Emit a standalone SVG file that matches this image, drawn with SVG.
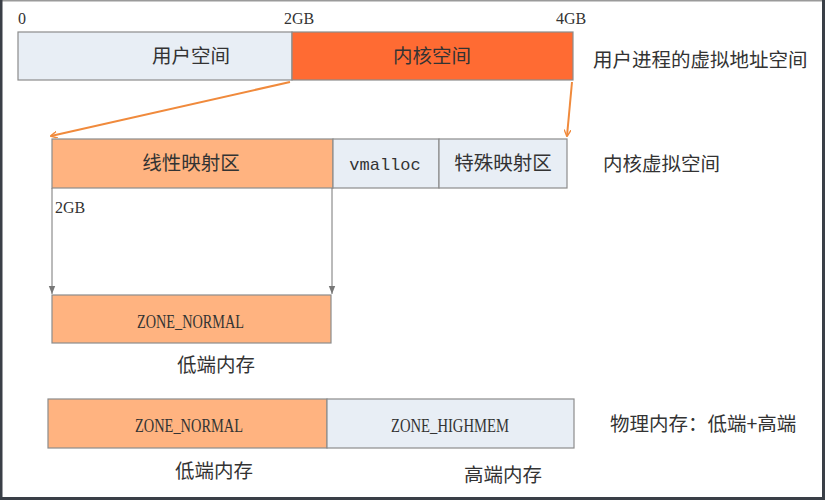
<svg xmlns="http://www.w3.org/2000/svg" width="825" height="500" viewBox="0 0 825 500">
<defs>
<style>
.box{stroke:#8c8c8c;stroke-width:1.2}
.lb{fill:#e8eef5}
.or{fill:#ffb380}
.rd{fill:#ff6b33}
.cn{font-family:"Noto Sans CJK SC","Noto Sans",sans-serif;font-size:19.5px;fill:#333}
.num{font-family:"Liberation Serif","DejaVu Serif",serif;font-size:16px;fill:#333}
.mono{font-family:"Liberation Mono","DejaVu Sans Mono",monospace;font-size:17px;fill:#333}
.zn{font-family:"Liberation Serif","DejaVu Serif",serif;font-size:18px;fill:#333}
.oarrow{stroke:#f08a3c;stroke-width:2;fill:none}
.garrow{stroke:#777;stroke-width:1;fill:none}
</style>
<marker id="ao" viewBox="0 0 10 10" refX="9" refY="5" markerWidth="7" markerHeight="7" orient="auto" markerUnits="userSpaceOnUse"><path d="M0,0 L10,5 L0,10" fill="none" stroke="#f08a3c" stroke-width="2"/></marker>
<marker id="ag" viewBox="0 0 10 10" refX="10" refY="5" markerWidth="8" markerHeight="8" orient="auto" markerUnits="userSpaceOnUse"><path d="M0,1 L10,5 L0,9 Z" fill="#777"/></marker>
</defs>
<rect x="0" y="0" width="825" height="500" fill="#ffffff"/>
<rect x="0" y="0" width="825" height="1.5" fill="#9a9a9a"/>
<rect x="0" y="0" width="2.5" height="500" fill="#3a3f47"/>
<rect x="822" y="0" width="3" height="500" fill="#3a3f47"/>
<rect x="0" y="497" width="825" height="3" fill="#3a3f47"/>

<g id="labels-top">
<text class="num" x="18" y="24">0</text>
<text class="num" x="284" y="24">2GB</text>
<text class="num" x="556" y="24">4GB</text>
</g>
<g id="user-space"><rect class="box lb" x="18" y="32" width="274" height="48"/><text class="cn" x="191" y="63" text-anchor="middle">用户空间</text></g>
<g id="kernel-space"><rect class="box rd" x="292" y="32" width="281" height="48"/><text class="cn" x="432" y="63" text-anchor="middle">内核空间</text></g>
<g id="label-vas"><text class="cn" x="593" y="67">用户进程的虚拟地址空间</text></g>

<g id="linear-map"><rect class="box or" x="52" y="139" width="281" height="49"/><text class="cn" x="191" y="170" text-anchor="middle">线性映射区</text></g>
<g id="vmalloc"><rect class="box lb" x="333" y="139" width="106" height="49"/><text class="mono" x="385" y="170" text-anchor="middle">vmalloc</text></g>
<g id="special-map"><rect class="box lb" x="439" y="139" width="128" height="49"/><text class="cn" x="503" y="170" text-anchor="middle">特殊映射区</text></g>
<g id="label-kvs"><text class="cn" x="603" y="171">内核虚拟空间</text></g>
<g id="label-2gb"><text class="num" x="55" y="213">2GB</text></g>

<g id="zone-normal-low"><rect class="box or" x="52" y="295" width="279" height="48"/><text class="zn" x="137" y="328" textLength="107" lengthAdjust="spacingAndGlyphs">ZONE_NORMAL</text></g>
<g id="label-low1"><text class="cn" x="216" y="372" text-anchor="middle">低端内存</text></g>

<g id="zone-normal"><rect class="box or" x="48" y="399" width="279" height="49"/><text class="zn" x="135" y="432" textLength="108" lengthAdjust="spacingAndGlyphs">ZONE_NORMAL</text></g>
<g id="zone-highmem"><rect class="box lb" x="327" y="399" width="247" height="49"/><text class="zn" x="391" y="432" textLength="118" lengthAdjust="spacingAndGlyphs">ZONE_HIGHMEM</text></g>
<g id="label-phys"><text class="cn" x="610" y="431">物理内存：低端+高端</text></g>
<g id="label-low2"><text class="cn" x="214" y="478" text-anchor="middle">低端内存</text></g>
<g id="label-high"><text class="cn" x="503" y="482" text-anchor="middle">高端内存</text></g>

<g id="connectors">
<line class="oarrow" x1="290" y1="82" x2="51" y2="136" marker-end="url(#ao)"/>
<line class="oarrow" x1="572" y1="82" x2="567" y2="136" marker-end="url(#ao)"/>
<line class="garrow" x1="52" y1="188" x2="52" y2="294" marker-end="url(#ag)"/>
<line class="garrow" x1="332" y1="188" x2="332" y2="294" marker-end="url(#ag)"/>
</g>
</svg>
